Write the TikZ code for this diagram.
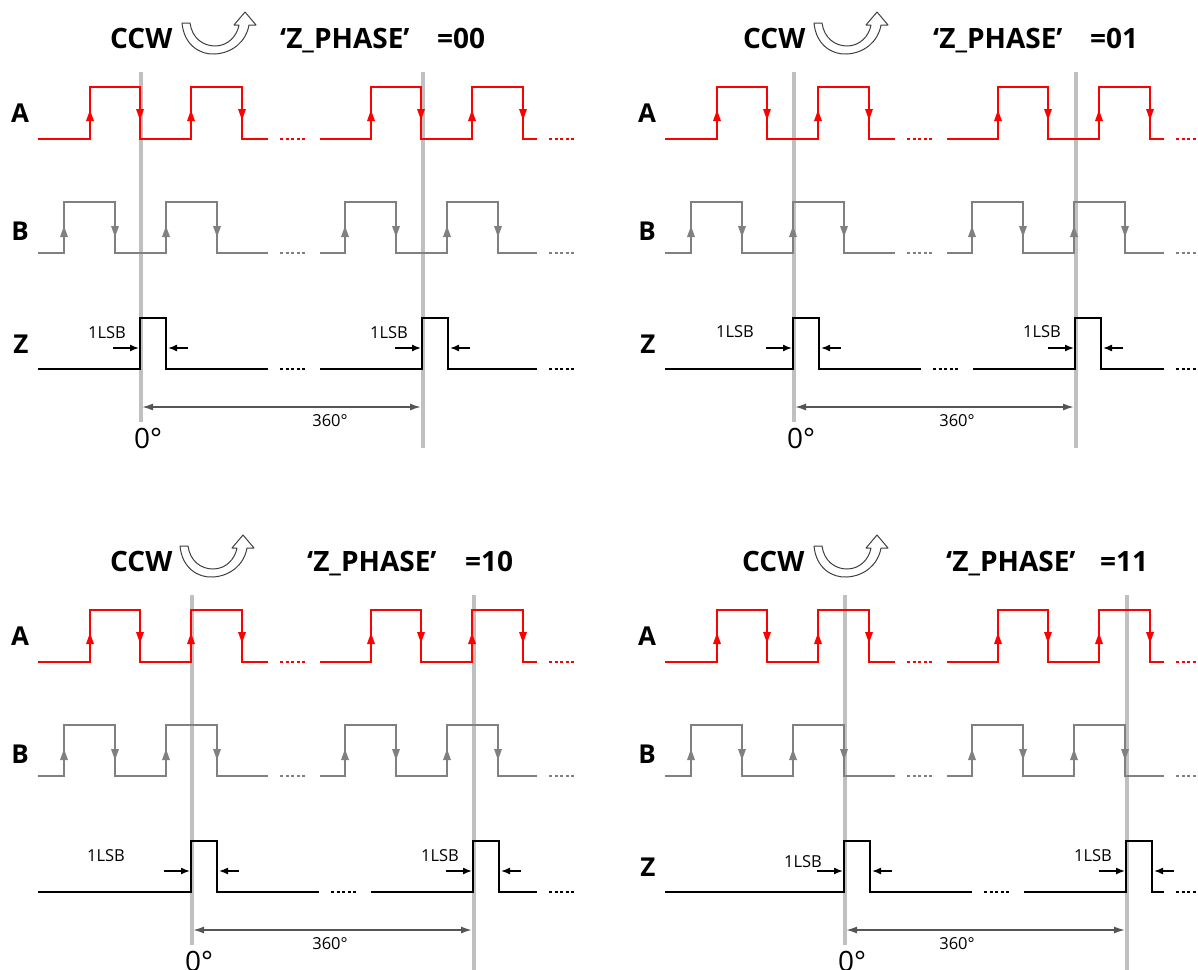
\documentclass[tikz,border=0pt]{standalone}
\usepackage{fontspec}
\setmainfont{Open Sans}
\usetikzlibrary{arrows.meta}
\definecolor{sigGray}{HTML}{808080}
\definecolor{zeroGray}{HTML}{C0C0C0}
\definecolor{dimGray}{HTML}{555555}
\definecolor{iconGray}{HTML}{404040}
\tikzset{
  sigA/.style={draw=red, line width=2pt},
  sigB/.style={draw=sigGray, line width=2pt},
  sigZ/.style={draw=black, line width=2.4pt},
  dotted line/.style={dash pattern=on 3pt off 2.6pt},
  zeroline/.style={draw=zeroGray, line width=4pt},
  dimline/.style={draw=dimGray, line width=1.6pt, {Latex[length=11pt,width=7pt]}-{Latex[length=11pt,width=7pt]}},
  lsbarrow/.style={draw=black, line width=1.5pt, -{Latex[length=9pt,width=7pt]}},
  siglabel/.style={font=\fontsize{26}{28}\selectfont\bfseries, inner sep=0pt},
  headtext/.style={font=\fontsize{28}{32}\selectfont\bfseries, inner sep=0pt, anchor=base west},
  smalltext/.style={font=\fontsize{16.5}{18}\selectfont, inner sep=0pt},
  degtext/.style={font=\fontsize{28}{30}\selectfont, inner sep=0pt},
  icon/.style={draw=iconGray, line width=1pt, fill=white, line join=round}
}
\begin{document}
\begin{tikzpicture}[x=1pt,y=-1pt]
\useasboundingbox (0,0) rectangle (1198,969);
\clip (0,0) rectangle (1198,969);
\fill[white] (0,0) rectangle (1198,969);
\foreach \dx/\dy/\p/\val/\hc/\ha/\hz/\hv/\lx/\ly/\mx/\my/\zl in {
   0/0/140/00/110/182/280/437/107/333/389/333/1,
   627/0/166/01/116/187/306/463/108/332/415/332/1,
   0/523/191/10/110/180/307/465/106/333/440/333/0,
   627/523/217/11/115/187/319/473/176/339/466/333/1}{
 \begin{scope}[shift={(\dx,\dy)}]
  % zero reference lines
  \draw[zeroline] ({\p+0.5},72) -- ({\p+0.5},422);
  \draw[zeroline] ({\p+282.5},72) -- ({\p+282.5},448);
  % header
  \node[headtext] (ccw\val) at (\hc,48) {CCW};
  \begin{scope}[shift={(\ha,0)}]
   \path[icon] (0,23) .. controls (2,45) and (18,55) .. (33,54)
      .. controls (50,53) and (64,42) .. (67,25) -- (74,25) -- (63,12)
      -- (52,25) -- (57,25) .. controls (55,36) and (46,46) .. (33,46)
      .. controls (21,46) and (10,38) .. (8,23) -- cycle;
  \end{scope}
  \node[headtext] (zph\val) at (\hz,48) {‘Z\_PHASE’};
  \node[headtext] (val\val) at (\hv,48) {=\val};
  % signal labels
  \node[siglabel] (labA\val) at (20,113) {A};
  \node[siglabel] (labB\val) at (20,231) {B};
  \ifnum\zl=1 \node[siglabel] (labZ\val) at (21,344) {Z}; \fi
  % A waveform
  \draw[sigA] (38,139) -- (90,139) -- (90,87) -- (140,87) -- (140,139) -- (191,139)
     -- (191,87) -- (242,87) -- (242,139) -- (268,139);
  \draw[sigA,dotted line] (280,139) -- (307,139);
  \draw[sigA] (320,139) -- (371,139) -- (371,87) -- (421,87) -- (421,139) -- (472,139)
     -- (472,87) -- (523,87) -- (523,139) -- (537,139);
  \draw[sigA,dotted line] (549,139) -- (577,139);
  \foreach \x in {90,191,371,472}{\fill[red] ({\x-4},121) -- (\x,110) -- ({\x+4},121) -- cycle;}
  \foreach \x in {140,242,421,523}{\fill[red] ({\x-4},109) -- (\x,120) -- ({\x+4},109) -- cycle;}
  % B waveform
  \draw[sigB] (38,253) -- (64,253) -- (64,202) -- (115,202) -- (115,253) -- (166,253)
     -- (166,202) -- (217,202) -- (217,253) -- (268,253);
  \draw[sigB,dotted line] (280,253) -- (307,253);
  \draw[sigB] (320,253) -- (345,253) -- (345,202) -- (396,202) -- (396,253) -- (447,253)
     -- (447,202) -- (498,202) -- (498,253) -- (537,253);
  \draw[sigB,dotted line] (549,253) -- (577,253);
  \foreach \x in {64,166,345,447}{\fill[sigGray] ({\x-4},237) -- (\x,226) -- ({\x+4},237) -- cycle;}
  \foreach \x in {115,217,396,498}{\fill[sigGray] ({\x-4},226) -- (\x,237) -- ({\x+4},226) -- cycle;}
  % Z waveform
  \draw[sigZ] (38,369) -- (\p,369) -- (\p,318) -- ({\p+26},318) -- ({\p+26},369) -- ({\p+128},369);
  \draw[sigZ,dotted line,line width=2pt] ({\p+140},369) -- ({\p+167},369);
  \draw[sigZ] ({\p+180},369) -- ({\p+282},369) -- ({\p+282},318) -- ({\p+308},318) -- ({\p+308},369) -- (537,369);
  \draw[sigZ,dotted line,line width=2pt] (549,369) -- (577,369);
  % 1LSB markers
  \coordinate (la\val) at ({\p-27},348);
  \coordinate (lb\val) at ({\p-1},348);
  \coordinate (lc\val) at ({\p+48},348);
  \coordinate (ld\val) at ({\p+28},348);
  \draw[lsbarrow] (la\val) -- (lb\val);
  \draw[lsbarrow] (lc\val) -- (ld\val);
  \coordinate (le\val) at ({\p+255},348);
  \coordinate (lf\val) at ({\p+281},348);
  \coordinate (lg\val) at ({\p+330},348);
  \coordinate (lh\val) at ({\p+310},348);
  \draw[lsbarrow] (le\val) -- (lf\val);
  \draw[lsbarrow] (lg\val) -- (lh\val);
  \node[smalltext] (lsbA\val) at (\lx,\ly) {1LSB};
  \node[smalltext] (lsbB\val) at (\mx,\my) {1LSB};
  % 360 dimension
  \coordinate (d0\val) at ({\p+2},407);
  \coordinate (d1\val) at ({\p+281},407);
  \draw[dimline] (d0\val) -- (d1\val);
  \node[smalltext] (deg\val) at (330,421) {360°};
  \node[degtext] (zero\val) at ({\p+8},438) {0°};
 \end{scope}
}
\end{tikzpicture}
\end{document}
